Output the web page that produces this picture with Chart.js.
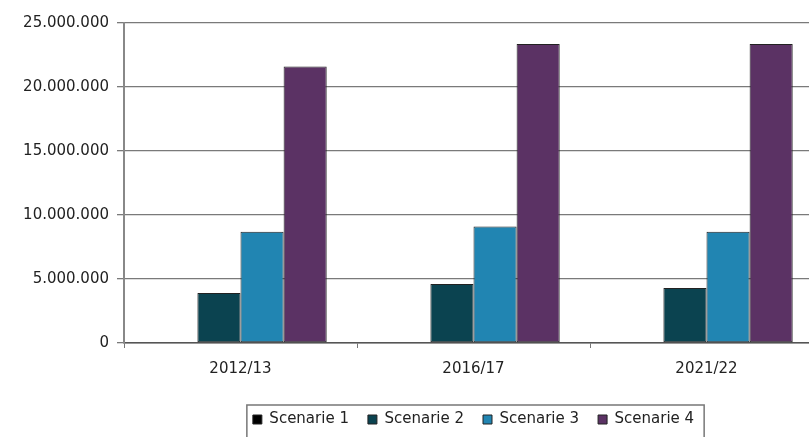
<!DOCTYPE html>
<html lang="nl">
<head>
    <meta charset="UTF-8">
    <title>Scenario's</title>
    <script src="https://cdn.jsdelivr.net/npm/chart.js@4.4.4/dist/chart.umd.min.js"></script>
    <style>
        html, body { margin: 0; padding: 0; background: #fff; overflow: hidden; }
        #wrap { width: 830px; height: 437px; }
    </style>
</head>
<body>
<div id="wrap"><canvas id="chart"></canvas></div>
<script>
// Gegevens
const periodes = ['2012/13', '2016/17', '2021/22'];
const scenarie1 = [0, 0, 0];
const scenarie2 = [3900000, 4600000, 4300000];
const scenarie3 = [8700000, 9100000, 8700000];
const scenarie4 = [21600000, 23350000, 23350000];
const yTicks = [0, 5000000, 10000000, 15000000, 20000000, 25000000];

const fontFam = '"DejaVu Sans", sans-serif';

function puntjes(v) {
    return String(Math.round(v)).replace(/\B(?=(\d{3})+(?!\d))/g, '.');
}

// Rand rond de legenda
const legendBorder = {
    id: 'legendBorder',
    afterDraw(chart) {
        const boxes = chart.legend && chart.legend.legendHitBoxes;
        if (!boxes || !boxes.length) return;
        const left = Math.min(...boxes.map(b => b.left)) - 6;
        const right = Math.max(...boxes.map(b => b.left + b.width)) + 10;
        const top = boxes[0].top - 7;
        const c = chart.ctx;
        c.save();
        c.strokeStyle = '#777';
        c.lineWidth = 1.5;
        c.strokeRect(left, top, right - left, chart.height + 20 - top);
        c.restore();
    }
};

const ctx = document.getElementById('chart').getContext('2d');
new Chart(ctx, {
    type: 'bar',
    data: {
        labels: periodes,
        datasets: [
            { label: 'Scenarie 1', data: scenarie1, backgroundColor: '#000000' },
            { label: 'Scenarie 2', data: scenarie2, backgroundColor: '#0b4350' },
            { label: 'Scenarie 3', data: scenarie3, backgroundColor: '#2185b2' },
            { label: 'Scenarie 4', data: scenarie4, backgroundColor: '#5b3264' }
        ].map(d => Object.assign(d, { borderColor: '#222', borderWidth: 1, borderSkipped: false }))
    },
    options: {
        responsive: true,
        maintainAspectRatio: false,
        animation: false,
        layout: { padding: { top: 23, right: 7, left: 0, bottom: 0 } },
        datasets: { bar: { categoryPercentage: 0.74, barPercentage: 1.0 } },
        plugins: {
            tooltip: { enabled: false },
            legend: {
                position: 'bottom',
                fullSize: false,
                labels: {
                    font: { family: fontFam, size: 15 },
                    color: '#222',
                    boxWidth: 9,
                    boxHeight: 9,
                    padding: 19
                }
            }
        },
        scales: {
            x: {
                afterFit(scale) { scale.height += 3; },
                grid: { drawOnChartArea: false, drawTicks: true, tickLength: 5, color: '#777', offset: true },
                border: { color: '#555', width: 1.5 },
                ticks: { font: { family: fontFam, size: 15 }, color: '#222', padding: 12 }
            },
            y: {
                min: 0,
                max: 25000000,
                afterFit(scale) { scale.width = 124; },
                afterBuildTicks(scale) { scale.ticks = yTicks.map(v => ({ value: v })); },
                grid: { color: '#7a7a7a', lineWidth: 1.3, tickLength: 7 },
                border: { color: '#888', width: 2 },
                ticks: {
                    font: { family: fontFam, size: 15 },
                    color: '#222',
                    padding: 8,
                    callback: v => puntjes(v)
                }
            }
        }
    },
    plugins: [legendBorder]
});
</script>
</body>
</html>
